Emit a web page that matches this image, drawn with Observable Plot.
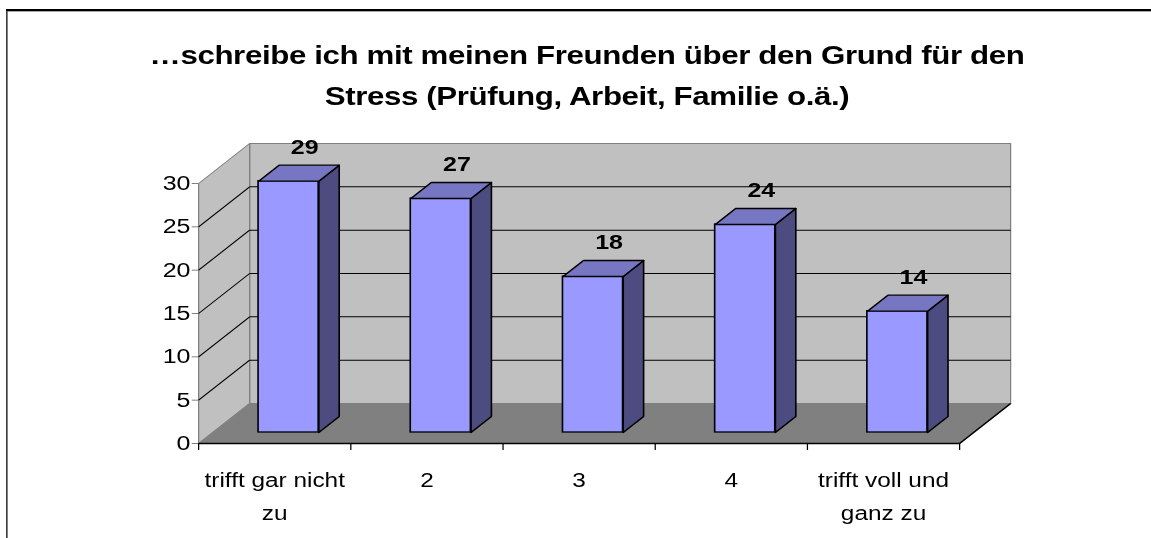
<!DOCTYPE html>
<html>
<head>
<meta charset="utf-8">
<script src="https://cdn.jsdelivr.net/npm/d3@7"></script>
<script src="https://cdn.jsdelivr.net/npm/@observablehq/plot@0.6"></script>
<style>
  html, body { margin: 0; padding: 0; background: #fff; overflow: hidden; }
  #wrap { position: relative; width: 921px; height: 538px; transform: scaleX(1.25); transform-origin: 0 0;
          font-family: "Liberation Sans", Arial, sans-serif; }
  #chart { position: absolute; left: 0; top: 0; }
  #frameTop { position: absolute; left: 5px; top: 9px; width: 1000px; height: 1.5px; background: #000; }
  #frameTop2 { position: absolute; left: 6.3px; top: 10.5px; width: 1000px; height: 1px; background: #a8a8a8; }
  #frameLeft { position: absolute; left: 5px; top: 9px; width: 1.3px; height: 600px; background: #000; }
  #title { position: absolute; left: 69.6px; width: 800px; top: 35px; text-align: center; font-weight: bold;
           font-size: 25px; letter-spacing: -0.3px; line-height: 41px; color: #000; }
</style>
</head>
<body>
<div id="wrap">
  <div id="chart"></div>
  <div id="frameTop"></div>
  <div id="frameTop2"></div>
  <div id="frameLeft"></div>
  <div id="title">…schreibe ich mit meinen Freunden über den Grund für den<br>Stress (Prüfung, Arbeit, Familie o.ä.)</div>
</div>
<script>
// ---- data ----
const categories = ["trifft gar nicht\nzu", "2", "3", "4", "trifft voll und\nganz zu"];
const values = [29, 27, 18, 24, 14];
const yTicks = [0, 5, 10, 15, 20, 25, 30];

// ---- layout / style ----
const W = 921, H = 538;
const mL = 158.4, mR = 153.8, mT = 183, mB = 95;
const xMax = categories.length, yMax = 30;
const pxPerX = (W - mL - mR) / xMax;
const pxPerY = (H - mT - mB) / yMax;
const Dx = 40.8 / pxPerX;   // full depth (oblique) in x units
const Dy = 40 / pxPerY;     // full depth in y units
const f0 = 0.275, f1 = 0.675, fm = 0.475; // bar depth placement
const bw = 0.395;                         // bar width (fraction of band)

const poly = (id, pts) => [...pts, pts[0]].map(([x, y]) => ({id, x, y}));

const backWall = poly("back", [[Dx, Dy], [Dx, yMax + Dy], [xMax + Dx, yMax + Dy], [xMax + Dx, Dy]]);
const sideWall = poly("side", [[0, 0], [0, yMax], [Dx, yMax + Dy], [Dx, Dy]]);
const floor = poly("floor", [[0, 0], [xMax, 0], [xMax + Dx, Dy], [Dx, Dy]]);
const inner = yTicks.filter(t => t > 0 && t < yMax);
const gridBack = inner.map(t => ({x1: Dx, y1: t + Dy, x2: xMax + Dx, y2: t + Dy}));
const gridSide = inner.map(t => ({x1: 0, y1: t, x2: Dx, y2: t + Dy}));

const fronts = values.map((v, i) => ({
  x1: i + 0.5 - bw / 2 + f0 * Dx, x2: i + 0.5 + bw / 2 + f0 * Dx, y1: f0 * Dy, y2: v + f0 * Dy
}));
const sides = values.flatMap((v, i) => {
  const xr = i + 0.5 + bw / 2;
  return poly("s" + i, [[xr + f0 * Dx, f0 * Dy], [xr + f1 * Dx, f1 * Dy], [xr + f1 * Dx, v + f1 * Dy], [xr + f0 * Dx, v + f0 * Dy]]);
});
const tops = values.flatMap((v, i) => {
  const xl = i + 0.5 - bw / 2, xr = i + 0.5 + bw / 2;
  return poly("t" + i, [[xl + f0 * Dx, v + f0 * Dy], [xr + f0 * Dx, v + f0 * Dy], [xr + f1 * Dx, v + f1 * Dy], [xl + f1 * Dx, v + f1 * Dy]]);
});

const chart = Plot.plot({
  width: W, height: H,
  marginLeft: mL, marginRight: mR, marginTop: mT, marginBottom: mB,
  x: {type: "linear", domain: [0, xMax], axis: null},
  y: {type: "linear", domain: [0, yMax], axis: null},
  style: {fontFamily: "'Liberation Sans', Arial, sans-serif", fontSize: "20px", color: "#000", background: "transparent", overflow: "visible"},
  marks: [
    Plot.line(backWall, {x: "x", y: "y", z: "id", fill: "#c0c0c0", stroke: "#808080", strokeWidth: 1}),
    Plot.line(sideWall, {x: "x", y: "y", z: "id", fill: "#c0c0c0", stroke: "#808080", strokeWidth: 1}),
    Plot.link(gridBack, {x1: "x1", y1: "y1", x2: "x2", y2: "y2", stroke: "#000", strokeWidth: 1}),
    Plot.link(gridSide, {x1: "x1", y1: "y1", x2: "x2", y2: "y2", stroke: "#000", strokeWidth: 1}),
    Plot.line(floor, {x: "x", y: "y", z: "id", fill: "#808080", stroke: "#808080", strokeWidth: 1}),
    Plot.link([{x1: 0, y1: 0, x2: xMax, y2: 0}, {x1: xMax, y1: 0, x2: xMax + Dx, y2: Dy}],
              {x1: "x1", y1: "y1", x2: "x2", y2: "y2", stroke: "#000", strokeWidth: 1.3}),
    Plot.axisY({ticks: yTicks, tickSize: 5, tickPadding: 1.5, fontSize: 20, stroke: "#808080", fill: "#000", label: null}),
    Plot.axisX({ticks: d3.range(0, xMax + 1), tickSize: 7, tickFormat: () => "", stroke: "#000", label: null}),
    Plot.text(categories, {x: (d, i) => i + 0.5, y: 0, text: d => d, lineAnchor: "top", dy: 20,
                           fontSize: 19.5, lineHeight: 1.69, fill: "#000"}),
    Plot.rect(fronts, {x1: "x1", x2: "x2", y1: "y1", y2: "y2", fill: "#9999ff", stroke: "#000", strokeWidth: 1.3}),
    Plot.line(sides, {x: "x", y: "y", z: "id", fill: "#4c4c80", stroke: "#000", strokeWidth: 1.3}),
    Plot.line(tops, {x: "x", y: "y", z: "id", fill: "#7676c2", stroke: "#000", strokeWidth: 1.3}),
    Plot.text(values, {x: (d, i) => i + 0.5 + fm * Dx, y: d => d + fm * Dy, text: d => String(d),
                       dx: 4.6, dy: -26, fontWeight: "bold", fontSize: 20, fill: "#000"})
  ]
});
document.getElementById("chart").appendChild(chart);
</script>
</body>
</html>
